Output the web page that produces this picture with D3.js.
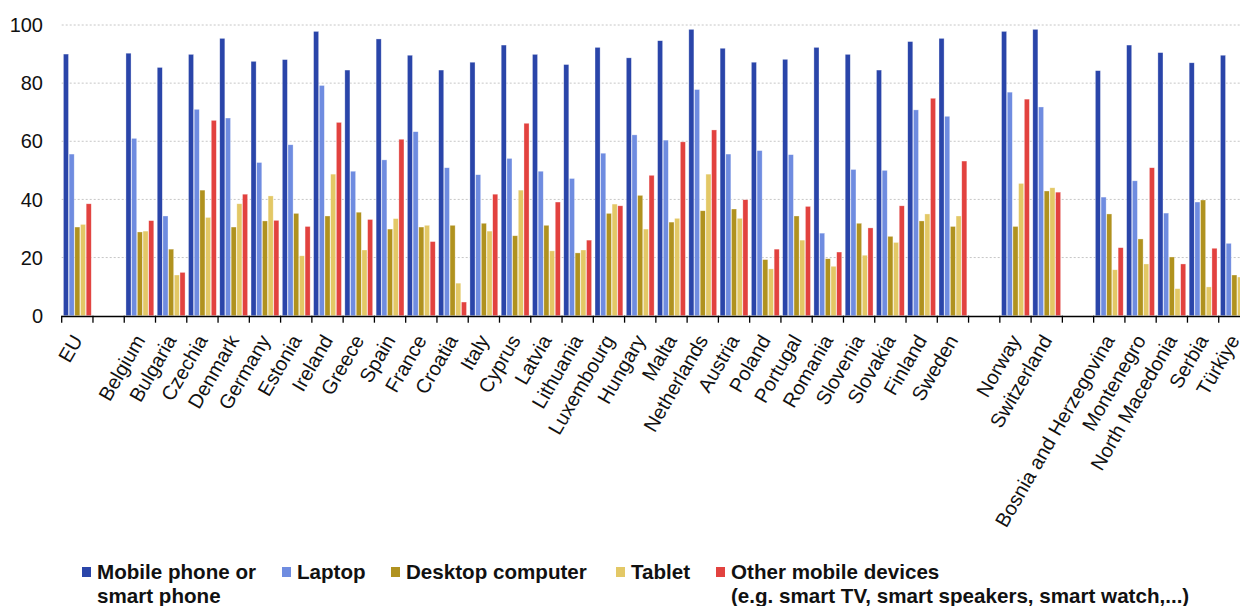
<!DOCTYPE html>
<html>
<head>
<meta charset="utf-8">
<script src="https://cdn.jsdelivr.net/npm/d3@7"></script>
<style>
  html, body { margin: 0; padding: 0; background: #fff; }
  svg { display: block; font-family: "Liberation Sans", Arial, sans-serif; }
</style>
</head>
<body>
<svg id="chart" width="1240" height="606"></svg>
<script>
const categories = ["EU", "", "Belgium", "Bulgaria", "Czechia", "Denmark", "Germany", "Estonia", "Ireland", "Greece", "Spain", "France", "Croatia", "Italy", "Cyprus", "Latvia", "Lithuania", "Luxembourg", "Hungary", "Malta", "Netherlands", "Austria", "Poland", "Portugal", "Romania", "Slovenia", "Slovakia", "Finland", "Sweden", "", "Norway", "Switzerland", "", "Bosnia and Herzegovina", "Montenegro", "North Macedonia", "Serbia", "Türkiye"];

const mobile  = [90.0, null, 90.3, 85.4, 89.9, 95.4, 87.5, 88.1, 97.8, 84.5, 95.2, 89.6, 84.5, 87.2, 93.1, 89.9, 86.4, 92.3, 88.7, 94.6, 98.5, 92.0, 87.2, 88.2, 92.3, 89.9, 84.5, 94.3, 95.4, null, 97.8, 98.5, null, 84.3, 93.1, 90.5, 87.0, 89.6];
const laptop  = [55.6, null, 61.0, 34.3, 71.0, 68.0, 52.7, 58.8, 79.2, 49.7, 53.6, 63.3, 50.9, 48.5, 54.1, 49.7, 47.2, 55.9, 62.2, 60.4, 77.8, 55.6, 56.8, 55.4, 28.4, 50.3, 50.0, 70.8, 68.6, null, 76.9, 71.8, null, 40.8, 46.4, 35.3, 39.1, 24.9];
const desktop = [30.5, null, 28.8, 22.9, 43.2, 30.5, 32.6, 35.2, 34.3, 35.6, 29.8, 30.5, 31.1, 31.8, 27.5, 31.1, 21.6, 35.2, 41.4, 32.2, 36.1, 36.7, 19.3, 34.3, 19.6, 31.8, 27.3, 32.6, 30.7, null, 30.7, 42.9, null, 35.0, 26.4, 20.2, 39.8, 14.0];
const tablet  = [31.4, null, 29.1, 14.0, 33.8, 38.5, 41.2, 20.6, 48.7, 22.6, 33.4, 31.1, 11.2, 29.1, 43.2, 22.3, 22.6, 38.4, 29.8, 33.5, 48.7, 33.5, 16.1, 26.0, 17.0, 20.8, 25.2, 35.0, 34.3, null, 45.5, 44.0, null, 15.8, 17.8, 9.3, 9.9, 13.3];
const other   = [38.5, null, 32.7, 14.9, 67.2, 41.8, 32.8, 30.7, 66.5, 33.1, 60.7, 25.5, 4.7, 41.8, 66.2, 39.1, 26.0, 37.8, 48.3, 59.8, 63.9, 39.9, 22.9, 37.6, 21.9, 30.2, 37.8, 74.8, 53.2, null, 74.5, 42.5, null, 23.4, 50.9, 17.8, 23.2, 12.0];

const seriesNames = ["Mobile phone or|smart phone", "Laptop", "Desktop computer", "Tablet", "Other mobile devices|(e.g. smart TV, smart speakers, smart watch,...)"];
const seriesValues = [mobile, laptop, desktop, tablet, other];
const colors = ["#2a45a9", "#6f8ce0", "#b0921f", "#e3c866", "#e2423f"];
const yTicks = [0, 20, 40, 60, 80, 100];

const svg = d3.select("#chart");
const plotLeft = 61.7, plotRight = 1250, plotTop = 25, plotBottom = 315.7;

const x = d3.scaleBand().domain(d3.range(categories.length)).range([plotLeft, plotRight]).paddingInner(0.09).paddingOuter(0.045);
const x1 = d3.scaleBand().domain(d3.range(seriesValues.length)).range([0, x.bandwidth()]).padding(0);
const y = d3.scaleLinear().domain([0, 100]).range([plotBottom, plotTop]);

// gridlines
svg.append("g").selectAll("line").data(yTicks.filter(d => d > 0)).join("line")
  .attr("x1", plotLeft).attr("x2", 1240)
  .attr("y1", d => y(d)).attr("y2", d => y(d))
  .attr("stroke", "#c6c6c6").attr("stroke-width", 1).attr("stroke-dasharray", "2,2");

// y labels
svg.append("g").selectAll("text").data(yTicks).join("text")
  .attr("x", 43).attr("y", d => y(d)).attr("dy", "0.36em")
  .attr("text-anchor", "end").attr("font-size", 20).attr("fill", "#111")
  .text(d => d);

// bars
const groups = svg.append("g").selectAll("g").data(categories.map((c, i) => i)).join("g")
  .attr("transform", i => `translate(${x(i)},0)`);
groups.selectAll("rect")
  .data(i => seriesValues.map((arr, s) => ({ s, v: arr[i] })).filter(d => d.v != null))
  .join("rect")
  .attr("x", d => x1(d.s) + 0.3)
  .attr("width", x1.bandwidth() - 0.6)
  .attr("y", d => y(d.v))
  .attr("height", d => y(0) - y(d.v))
  .attr("fill", d => colors[d.s])
  .attr("stroke", "rgba(255,255,255,0.55)").attr("stroke-width", 0.6);

// x axis line and ticks
const step = x.step();
const tickPos = d3.range(categories.length + 1).map(k => plotLeft + k * step);
svg.append("line").attr("x1", plotLeft).attr("x2", 1240).attr("y1", plotBottom + 0.8).attr("y2", plotBottom + 0.8)
  .attr("stroke", "#000").attr("stroke-width", 1.6);
svg.append("g").selectAll("line").data(tickPos).join("line")
  .attr("x1", d => d).attr("x2", d => d)
  .attr("y1", plotBottom).attr("y2", plotBottom + 7)
  .attr("stroke", "#000").attr("stroke-width", 1.3);

// x labels
svg.append("g").selectAll("text").data(categories.map((c, i) => ({ c, i })).filter(d => d.c !== "")).join("text")
  .attr("transform", d => `translate(${x(d.i) + x.bandwidth() / 2 + 6},340) rotate(-60)`)
  .attr("text-anchor", "end").attr("font-size", 20).attr("fill", "#111")
  .text(d => d.c);

// legend
const legendX = [82, 282, 391, 616, 716];
const lg = svg.append("g").selectAll("g").data(seriesNames.map((n, i) => ({ n, i }))).join("g")
  .attr("transform", d => `translate(${legendX[d.i]},0)`);
lg.append("rect").attr("x", 0).attr("y", 567).attr("width", 9).attr("height", 10)
  .attr("fill", d => colors[d.i]);
lg.append("text").attr("x", 15).attr("y", 579).attr("font-size", 20.6).attr("font-weight", "bold").attr("fill", "#111")
  .selectAll("tspan").data(d => d.n.split("|")).join("tspan")
  .attr("x", 15).attr("dy", (t, j) => j === 0 ? 0 : 24)
  .text(t => t);
</script>
</body>
</html>
